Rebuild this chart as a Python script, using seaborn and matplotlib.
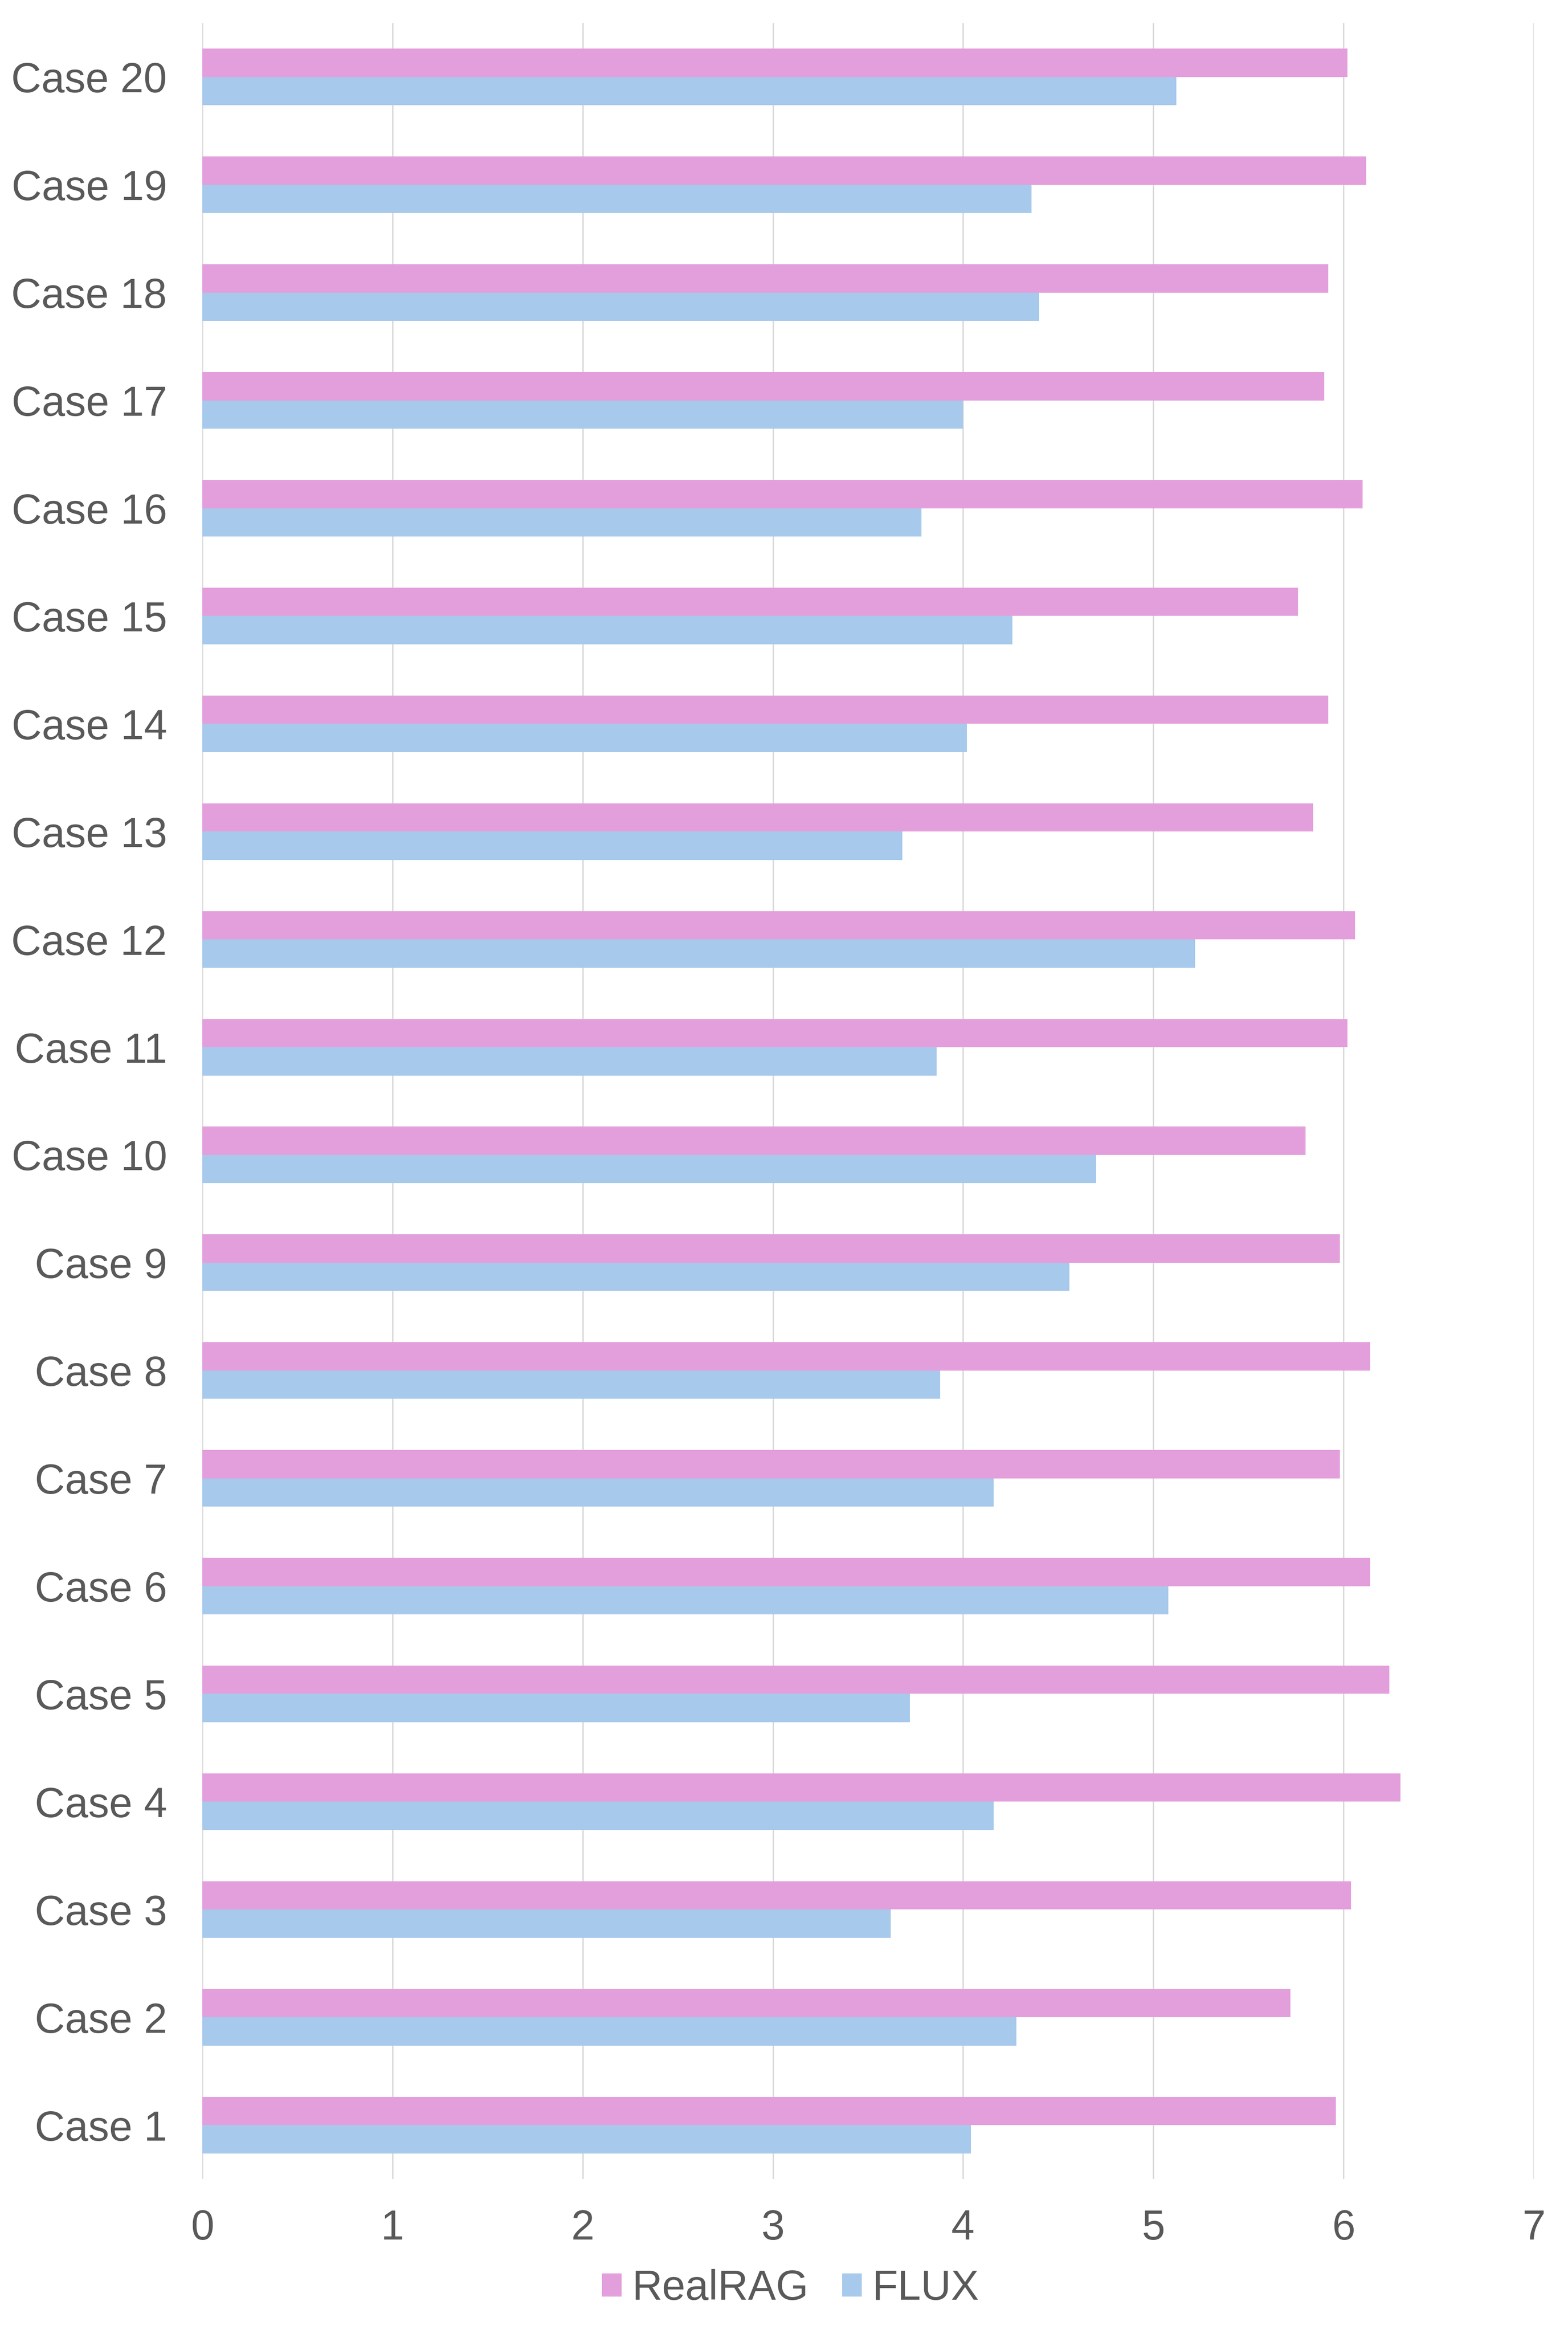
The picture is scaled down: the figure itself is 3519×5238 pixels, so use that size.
import matplotlib
matplotlib.use("Agg")
import matplotlib.pyplot as plt
import seaborn as sns
import pandas as pd

cases = [f"Case {i}" for i in range(1, 21)]
realrag = [5.96, 5.72, 6.04, 6.30, 6.24, 6.14, 5.98, 6.14, 5.98, 5.80,
           6.02, 6.06, 5.84, 5.92, 5.76, 6.10, 5.90, 5.92, 6.12, 6.02]
flux = [4.04, 4.28, 3.62, 4.16, 3.72, 5.08, 4.16, 3.88, 4.56, 4.70,
        3.86, 5.22, 3.68, 4.02, 4.26, 3.78, 4.00, 4.40, 4.36, 5.12]
series = ["RealRAG", "FLUX"]
colors = ["#E39FDC", "#A7C9EB"]
xticks = [0, 1, 2, 3, 4, 5, 6, 7]

df = pd.DataFrame({
    "case": cases * 2,
    "value": realrag + flux,
    "series": [series[0]] * len(cases) + [series[1]] * len(cases),
})

sns.set_theme(style="white")
plt.rcParams['font.family'] = ['Liberation Sans', 'DejaVu Sans']
TXT = "#595959"
FS = 22.5

fig = plt.figure(figsize=(3520 / 300, 5238 / 300), dpi=300)
ax = fig.add_axes([454 / 3520, 1 - 4890 / 5238, (3442 - 454) / 3520, (4890 - 52) / 5238])

order = cases[::-1]
sns.barplot(data=df, x="value", y="case", hue="series", order=order,
            hue_order=series, palette=colors, orient="h", width=0.525,
            gap=0, saturation=1, linewidth=0, ax=ax, legend=True)

ax.set_xlim(0, 7)
ax.set_ylim(len(cases) - 0.5, -0.5)
ax.set_xticks(xticks)
ax.set_xticklabels([str(t) for t in xticks])
ax.set_xlabel("")
ax.set_ylabel("")
ax.xaxis.grid(True, color="#D9D9D9", linewidth=0.75)
ax.yaxis.grid(False)
ax.set_axisbelow(True)
for s in ax.spines.values():
    s.set_visible(False)
ax.tick_params(axis="both", length=0, labelsize=FS, labelcolor=TXT)
ax.tick_params(axis="y", pad=19)
ax.tick_params(axis="x", pad=16)

handles, labels = ax.get_legend_handles_labels()
ax.get_legend().remove()
fig.legend(handles, labels, loc="center", bbox_to_anchor=(0.504, 1 - 5137 / 5238),
           ncol=2, frameon=False, fontsize=FS, labelcolor=TXT,
           handlelength=0.47, handleheight=0.47, handletextpad=0.25,
           columnspacing=0.8)

fig.savefig("out.png", dpi=300, facecolor="white")
